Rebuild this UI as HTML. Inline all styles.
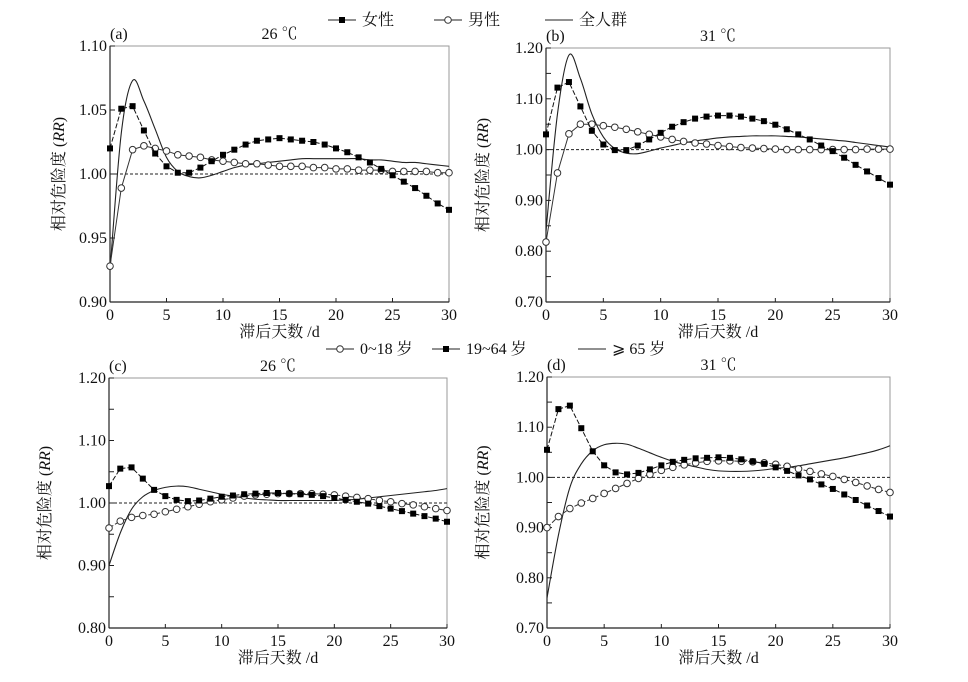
<!DOCTYPE html>
<html><head><meta charset="utf-8"><style>
body{margin:0;background:#fff}
svg text{font-family:"Liberation Serif","Noto Serif CJK SC",serif;fill:#111}
</style></head><body>
<svg id="c" width="968" height="677" xmlns="http://www.w3.org/2000/svg"></svg>
<script>
const days=[...Array(31).keys()];
const xTicks=[0,5,10,15,20,25,30];
const aFemale=[1.020,1.051,1.053,1.034,1.016,1.006,1.001,1.001,1.005,1.010,1.015,1.019,1.023,1.026,1.027,1.028,1.027,1.026,1.025,1.023,1.020,1.017,1.013,1.009,1.004,0.999,0.994,0.989,0.983,0.977,0.972];
const aMale=[0.928,0.989,1.019,1.022,1.020,1.018,1.015,1.014,1.013,1.011,1.010,1.009,1.008,1.008,1.007,1.006,1.006,1.006,1.005,1.005,1.004,1.004,1.003,1.003,1.003,1.002,1.002,1.002,1.002,1.001,1.001];
const aAll=[0.925,1.032,1.073,1.057,1.035,1.013,1.002,0.998,0.997,0.999,1.002,1.005,1.007,1.008,1.009,1.010,1.011,1.012,1.012,1.012,1.012,1.012,1.012,1.011,1.011,1.010,1.009,1.009,1.008,1.007,1.006];
const bFemale=[1.030,1.122,1.133,1.085,1.037,1.010,0.999,0.999,1.008,1.020,1.033,1.045,1.054,1.061,1.065,1.067,1.067,1.065,1.061,1.056,1.049,1.040,1.030,1.020,1.008,0.997,0.984,0.970,0.957,0.944,0.931];
const bMale=[0.818,0.954,1.031,1.050,1.050,1.047,1.044,1.040,1.035,1.030,1.025,1.020,1.016,1.013,1.011,1.008,1.006,1.004,1.003,1.002,1.001,1.000,1.000,1.000,1.000,1.000,1.000,1.000,1.001,1.001,1.001];
const bAll=[0.84,1.07,1.186,1.14,1.07,1.025,1.002,0.993,0.992,0.997,1.003,1.008,1.013,1.017,1.020,1.023,1.025,1.026,1.027,1.027,1.027,1.026,1.025,1.023,1.021,1.019,1.017,1.014,1.011,1.008,1.005];
const cYoung=[0.960,0.971,0.977,0.980,0.982,0.986,0.990,0.994,0.998,1.002,1.005,1.008,1.011,1.013,1.014,1.015,1.015,1.015,1.015,1.014,1.013,1.011,1.009,1.007,1.004,1.002,0.999,0.997,0.994,0.991,0.988];
const cAdult=[1.027,1.055,1.057,1.039,1.021,1.011,1.005,1.003,1.004,1.007,1.010,1.012,1.014,1.015,1.016,1.016,1.015,1.014,1.013,1.011,1.008,1.005,1.002,0.999,0.995,0.991,0.987,0.983,0.979,0.975,0.970];
const cOld=[0.900,0.952,0.990,1.010,1.020,1.025,1.027,1.026,1.022,1.018,1.014,1.011,1.008,1.006,1.005,1.004,1.004,1.004,1.004,1.004,1.004,1.005,1.006,1.008,1.010,1.012,1.014,1.016,1.018,1.020,1.023];
const dYoung=[0.900,0.922,0.938,0.949,0.958,0.968,0.978,0.988,0.998,1.006,1.014,1.020,1.025,1.029,1.032,1.033,1.033,1.032,1.031,1.029,1.026,1.022,1.017,1.012,1.007,1.002,0.996,0.990,0.983,0.976,0.970];
const dAdult=[1.055,1.136,1.143,1.098,1.052,1.024,1.010,1.006,1.009,1.016,1.024,1.031,1.035,1.038,1.039,1.040,1.039,1.036,1.032,1.027,1.020,1.013,1.004,0.996,0.986,0.977,0.966,0.955,0.944,0.933,0.922];
const dOld=[0.760,0.885,0.980,1.027,1.053,1.065,1.068,1.066,1.058,1.049,1.040,1.032,1.026,1.021,1.016,1.013,1.012,1.012,1.013,1.015,1.018,1.020,1.023,1.027,1.031,1.035,1.039,1.044,1.049,1.055,1.063];
const aTicks=[0.90,0.95,1.00,1.05,1.10];
const bTicks=[0.70,0.80,0.90,1.00,1.10,1.20];
const cTicks=[0.80,0.90,1.00,1.10,1.20];
const dTicks=[0.70,0.80,0.90,1.00,1.10,1.20];

const svg=document.getElementById('c');
const NS='http://www.w3.org/2000/svg';
function mk(t,a,p){const e=document.createElementNS(NS,t);for(const k in a)e.setAttribute(k,a[k]);(p||svg).appendChild(e);return e;}
function txt(x,y,s,a,p){const e=mk('text',Object.assign({x:x,y:y,'font-size':16},a||{}),p);e.textContent=s;return e;}

function smoothPath(pts){let d='M'+pts[0][0]+','+pts[0][1];
 for(let i=0;i<pts.length-1;i++){const p0=pts[Math.max(i-1,0)],p1=pts[i],p2=pts[i+1],p3=pts[Math.min(i+2,pts.length-1)];
 const t=0.17;d+=' C'+(p1[0]+(p2[0]-p0[0])*t)+','+(p1[1]+(p2[1]-p0[1])*t)+' '+(p2[0]-(p3[0]-p1[0])*t)+','+(p2[1]-(p3[1]-p1[1])*t)+' '+p2[0]+','+p2[1];}
 return d;}

function panel(o){
 const g=mk('g',{});
 
 
 const X=v=>o.x0+(o.x1-o.x0)*v/30;
 const Y=v=>o.yb+(o.yt-o.yb)*(v-o.ymin)/(o.ymax-o.ymin);
 const fr=mk('rect',{x:o.x0,y:o.yt,width:o.x1-o.x0,height:o.yb-o.yt,fill:'none',stroke:'#999','stroke-width':1},g);
 
 mk('line',{x1:o.x0,y1:o.yt,x2:o.x0,y2:o.yb,stroke:'#222','stroke-width':1.2},g);
 mk('line',{x1:o.x0,y1:o.yb,x2:o.x1,y2:o.yb,stroke:'#222','stroke-width':1.2},g);
 o.ticks.forEach((t,i)=>{const y=Y(t);mk('line',{x1:o.x0,y1:y,x2:o.x0+5,y2:y,stroke:'#222'},g);
  const l=txt(o.x0-3,y+5,t.toFixed(2),{'text-anchor':'end'},g);
  if(o.minor&&i<o.ticks.length-1){const m=Y((t+o.ticks[i+1])/2);mk('line',{x1:o.x0,y1:m,x2:o.x0+5,y2:m,stroke:'#222'},g);}});
 xTicks.forEach(t=>{const x=X(t);mk('line',{x1:x,y1:o.yb,x2:x,y2:o.yb-4,stroke:'#222'},g);
  const l=txt(x,o.yb+18,String(t),{'text-anchor':'middle'},g);});
 const ref=mk('line',{x1:o.x0,y1:Y(1),x2:o.x1,y2:Y(1),stroke:'#222','stroke-dasharray':'3,2','stroke-width':1},g);
 
 const xl=txt((o.x0+o.x1)/2,o.yb+35,'滞后天数 /d',{'text-anchor':'middle'},g);
 
 const cy=(o.yt+o.yb)/2;
 const yl=txt(o.ylx,cy,'',{'text-anchor':'middle',transform:'rotate(-90 '+o.ylx+' '+cy+')'},g);
 yl.innerHTML='相对危险度 (<tspan font-style="italic">RR</tspan>)';
 
 const pl=txt(o.x0,o.yt-7,'('+o.id+')',{},g);
 const tt=txt((o.x0+o.x1)/2,o.yt-7,o.title,{'text-anchor':'middle'},g);
 const lp=mk('path',{d:smoothPath(days.map(d=>[X(d),Y(o.line[d])])),fill:'none',stroke:'#222','stroke-width':1.1},g);
 
 const cp=mk('polyline',{points:days.map(d=>X(d)+','+Y(o.circ[d])).join(' '),fill:'none',stroke:'#333','stroke-width':1,'stroke-dasharray':o.circDash||'none'},g);
 
 days.forEach(d=>{const c=mk('circle',{cx:X(d),cy:Y(o.circ[d]),r:3.3,fill:'#fff',stroke:'#333','stroke-width':1},g);
  });
 const sp=mk('polyline',{points:days.map(d=>X(d)+','+Y(o.sq[d])).join(' '),fill:'none',stroke:'#111','stroke-width':1,'stroke-dasharray':o.sqDash||'none'},g);
 
 days.forEach(d=>{const s=mk('rect',{x:X(d)-3,y:Y(o.sq[d])-3,width:6,height:6,fill:'#000'},g);
  });
}
panel({id:'a',title:'26 ℃',x0:110,x1:449,yt:46,yb:302,ymin:0.90,ymax:1.10,ticks:aTicks,minor:false,ylx:64,sq:aFemale,circ:aMale,line:aAll,sqDash:'5,2'});
panel({id:'b',title:'31 ℃',x0:546,x1:890,yt:48,yb:302,ymin:0.70,ymax:1.20,ticks:bTicks,minor:true,ylx:488,sq:bFemale,circ:bMale,line:bAll,sqDash:'5,2'});
panel({id:'c',title:'26 ℃',x0:109,x1:447,yt:378,yb:628,ymin:0.80,ymax:1.20,ticks:cTicks,minor:true,ylx:50,sq:cAdult,circ:cYoung,line:cOld,sqDash:'5,2',circDash:'5,2'});
panel({id:'d',title:'31 ℃',x0:547,x1:890,yt:377,yb:628,ymin:0.70,ymax:1.20,ticks:dTicks,minor:true,ylx:488,sq:dAdult,circ:dYoung,line:dOld,sqDash:'5,2',circDash:'5,2'});

function legendEntry(x,y,kind,label,name){
 const g=mk('g',{});
 
 
 mk('line',{x1:x,y1:y,x2:x+28,y2:y,stroke:'#222','stroke-width':1.1},g);
 if(kind==='sq')mk('rect',{x:x+11,y:y-3,width:6,height:6,fill:'#000'},g);
 if(kind==='ci')mk('circle',{cx:x+14,cy:y,r:3.3,fill:'#fff',stroke:'#333'},g);
 txt(x+34,y+5,label,{},g);
}
legendEntry(328,20,'sq','女性','legend-female');
legendEntry(434,20,'ci','男性','legend-male');
legendEntry(545,20,'ln','全人群','legend-all');
legendEntry(326,349,'ci','0~18 岁','legend-age-0-18');
legendEntry(432,349,'sq','19~64 岁','legend-age-19-64');
legendEntry(578,349,'ln','⩾ 65 岁','legend-age-65');
</script>
</body></html>
